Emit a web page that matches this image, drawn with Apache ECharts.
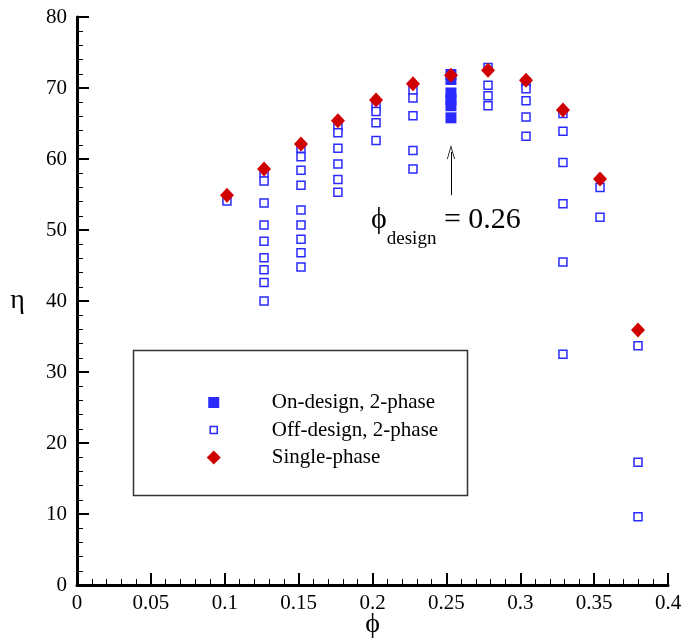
<!DOCTYPE html>
<html>
<head>
<meta charset="utf-8">
<script src="https://cdn.jsdelivr.net/npm/echarts@6/dist/echarts.min.js"></script>
<style>html,body{margin:0;padding:0;background:#fff}#c{width:691px;height:640px}</style>
</head>
<body>
<div id="c"></div>
<script>
// Flow coefficient columns (phi)
const phiCols = [0.1015, 0.1266, 0.1516, 0.1766, 0.2024, 0.2274, 0.2531, 0.2782, 0.3039, 0.3289, 0.3540, 0.3797];
// Single-phase efficiency at each column
const singlePhase = [54.9, 58.6, 62.1, 65.4, 68.3, 70.6, 71.8, 72.5, 71.1, 66.9, 57.2, 35.9];
// Off-design two-phase efficiencies, one list per column
const offDesign = [
  [54.1],
  [58.0, 56.9, 53.8, 50.7, 48.4, 46.1, 44.4, 42.6, 40.0],
  [61.5, 60.3, 58.4, 56.3, 52.8, 50.7, 48.7, 46.8, 44.8],
  [64.6, 63.7, 61.5, 59.3, 57.1, 55.3],
  [67.4, 66.7, 65.1, 62.6],
  [69.7, 68.6, 66.1, 61.2, 58.6],
  [],
  [72.9, 70.4, 68.9, 67.5],
  [70.8, 69.9, 68.2, 65.9, 63.2],
  [66.4, 63.9, 59.5, 53.7, 45.5, 32.5],
  [56.0, 51.8],
  [33.7, 17.3, 9.6]
];
// On-design two-phase efficiencies (at phi_design column)
const onDesignPhi = 0.2531;
const onDesign = [71.9, 71.2, 69.3, 68.4, 67.5, 65.8];
// Arrow annotation (phi, eta from -> to)
const arrowFrom = [0.2531, 54.9];
const arrowTo = [0.2531, 61.0];
const xTicks = { min: 0, max: 0.4, interval: 0.05 };
const yTicks = { min: 0, max: 80, interval: 10 };

const singleData = phiCols.map((x, i) => [x, singlePhase[i]]);
const offData = [];
offDesign.forEach((col, i) => col.forEach(v => offData.push([phiCols[i], v])));
const onData = onDesign.map(v => [onDesignPhi, v]);

const FONT = '"Liberation Serif", "DejaVu Serif", serif';
const BLUE = '#2a2aff';
const RED = '#d10000';

const chart = echarts.init(document.getElementById('c'), null, { renderer: 'canvas' });
chart.setOption({
  animation: false,
  backgroundColor: '#fff',
  grid: { left: 77, right: 23, top: 17, bottom: 55, containLabel: false, outerBoundsMode: 'none' },
  xAxis: {
    type: 'value', min: xTicks.min, max: xTicks.max, interval: xTicks.interval,
    name: 'ϕ', nameLocation: 'middle', nameGap: 26, nameMoveOverlap: false,
    nameTextStyle: { fontFamily: FONT, fontSize: 28, color: '#000' },
    axisLine: { show: true, onZero: false, lineStyle: { color: '#000', width: 3 } },
    axisTick: { show: true, inside: true, length: 12, lineStyle: { color: '#000', width: 2 } },
    minorTick: { show: true, splitNumber: 5, length: 6, lineStyle: { color: '#000', width: 1 } },
    axisLabel: { fontFamily: FONT, fontSize: 21, color: '#000', margin: 8 },
    splitLine: { show: false }, minorSplitLine: { show: false }
  },
  yAxis: {
    type: 'value', min: yTicks.min, max: yTicks.max, interval: yTicks.interval,
    name: 'η', nameLocation: 'middle', nameGap: 52, nameRotate: 0, nameMoveOverlap: false,
    nameTextStyle: { fontFamily: FONT, fontSize: 28, color: '#000' },
    axisLine: { show: true, onZero: false, lineStyle: { color: '#000', width: 3 } },
    axisTick: { show: true, inside: true, length: 12, lineStyle: { color: '#000', width: 2 } },
    minorTick: { show: true, splitNumber: 5, length: 6, lineStyle: { color: '#000', width: 1 } },
    axisLabel: { fontFamily: FONT, fontSize: 21, color: '#000', margin: 10 },
    splitLine: { show: false }, minorSplitLine: { show: false }
  },
  legend: {
    orient: 'vertical', left: 201, top: 387,
    itemWidth: 14, itemHeight: 14, itemGap: 6.5,
    textStyle: { fontFamily: FONT, fontSize: 21, color: '#000', lineHeight: 14, padding: [0, 0, 0, 46] },
    data: [
      { name: 'On-design, 2-phase', icon: 'path://M0,0 M14,14 M1.5,1.5 L12.5,1.5 L12.5,12.5 L1.5,12.5 Z',
        itemStyle: { color: BLUE, borderWidth: 0 } },
      { name: 'Off-design, 2-phase', icon: 'path://M0,0 M14,14 M3.5,3.5 L10.5,3.5 L10.5,10.5 L3.5,10.5 Z',
        itemStyle: { color: '#fff', borderColor: BLUE, borderWidth: 1.5 } },
      { name: 'Single-phase', icon: 'path://M7,0 L14,7 L7,14 L0,7 Z',
        itemStyle: { color: RED, borderWidth: 0 } }
    ]
  },
  graphic: [
    { type: 'rect', shape: { x: 133.5, y: 350.5, width: 334, height: 145 },
      style: { fill: 'rgba(0,0,0,0)', stroke: '#333', lineWidth: 1.5 }, z: 100, silent: true },
    { type: 'text', left: 371, top: 205, z: 100, silent: true,
      style: {
        text: '{a|ϕ}{s|design}{a| = 0.26}',
        rich: {
          a: { fontFamily: FONT, fontSize: 30, color: '#000', lineHeight: 44, verticalAlign: 'top' },
          s: { fontFamily: FONT, fontSize: 19, color: '#000', lineHeight: 42, verticalAlign: 'bottom' }
        }
      }
    }
  ],
  series: [
    {
      name: 'On-design, 2-phase', type: 'scatter', data: onData,
      symbol: 'rect', symbolSize: 11, itemStyle: { color: BLUE, opacity: 1 }, z: 3
    },
    {
      name: 'Off-design, 2-phase', type: 'scatter', data: offData,
      symbol: 'rect', symbolSize: 8,
      itemStyle: { color: '#fff', borderColor: BLUE, borderWidth: 1.5, opacity: 1 }, z: 2
    },
    {
      name: 'Single-phase', type: 'scatter', data: singleData,
      symbol: 'diamond', symbolSize: [14, 15], itemStyle: { color: RED, opacity: 1 }, z: 4,
      markLine: {
        silent: true, animation: false,
        label: { show: false },
        lineStyle: { color: '#000', width: 1, type: 'solid' },
        symbolSize: [8, 14],
        data: [[
          { coord: arrowFrom, symbol: 'none' },
          { coord: arrowTo, symbol: 'path://M0,20 L5,0 L10,20 L9,20 L5,4 L1,20 Z' }
        ]]
      }
    }
  ]
});
</script>
</body>
</html>
